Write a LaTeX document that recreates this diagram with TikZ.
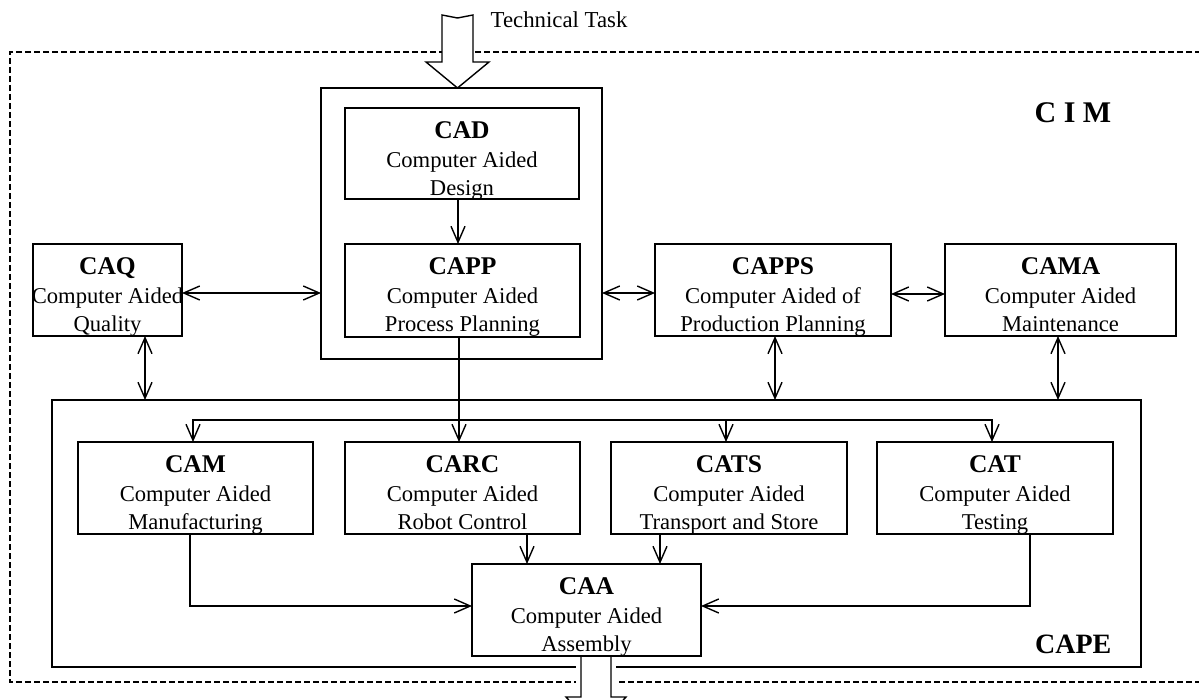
\documentclass[tikz,border=0pt]{standalone}
\usepackage{fontspec}
\setmainfont{Liberation Serif}
\usetikzlibrary{arrows.meta}
\begin{document}
\begin{tikzpicture}[x=1pt,y=-1pt, line width=1.4pt,
  box/.style={draw, rectangle, inner sep=0pt, outer sep=0pt, anchor=north west},
  txt/.style={anchor=north, inner sep=0pt, align=center, font=\fontsize{22.6}{28.5}\selectfont},
  arr/.style={-{Straight Barb[length=16pt,width=14pt]}},
  darr/.style={{Straight Barb[length=16pt,width=14pt]}-{Straight Barb[length=16pt,width=14pt]}},
  frame/.style={dash pattern=on 6pt off 3pt, line width=1.3pt}]
\newcommand\ttlfont{\fontsize{25.5}{28.5}\selectfont\bfseries}
\useasboundingbox (0,0) rectangle (1199,700);
\clip (0,0) rectangle (1199,700);
\fill[white] (0,0) rectangle (1199,700);
% outer dashed CIM frame
\draw[frame] (1210,52) -- (10,52) -- (10,682) -- (1210,682);
% containers
\node[box, minimum width=281pt, minimum height=271pt] (core) at (321,88) {};
\node[box, minimum width=1089pt, minimum height=267pt] (cape) at (52,400) {};
% top hollow arrow
\draw[fill=white, line join=miter] (442,15) -- (457.5,18) -- (473,15) -- (473,62) -- (489,62) -- (457.5,0 |- core.north) -- (426,62) -- (442,62) -- cycle;
\node[anchor=base west, inner sep=0pt, font=\fontsize{22.8}{26}\selectfont] (task) at (490,28) {Technical Task};
% boxes
\node[box, minimum width=234pt, minimum height=91pt] (cad) at (345,108) {};
\node[box, minimum width=235pt, minimum height=93pt] (capp) at (345,244) {};
\node[box, minimum width=149pt, minimum height=92pt] (caq) at (33,244) {};
\node[box, minimum width=236pt, minimum height=92pt] (capps) at (655,244) {};
\node[box, minimum width=231pt, minimum height=92pt] (cama) at (945,244) {};
\node[box, minimum width=235pt, minimum height=92pt] (cam) at (78,442) {};
\node[box, minimum width=235pt, minimum height=92pt] (carc) at (345,442) {};
\node[box, minimum width=236pt, minimum height=92pt] (cats) at (611,442) {};
\node[box, minimum width=236pt, minimum height=92pt] (cat) at (877,442) {};
\node[box, minimum width=229pt, minimum height=92pt] (caa) at (472,564) {};
% texts
\node[txt] (cadt) at ([yshift=-13pt]cad.north) {{\ttlfont CAD}\\Computer Aided\\Design};
\node[txt] (cappt) at ([yshift=-13pt]capp.north) {{\ttlfont CAPP}\\Computer Aided\\Process Planning};
\node[txt] (caqt) at ([yshift=-13pt]caq.north) {{\ttlfont CAQ}\\Computer Aided\\Quality};
\node[txt] (cappst) at ([yshift=-13pt]capps.north) {{\ttlfont CAPPS}\\Computer Aided of\\Production Planning};
\node[txt] (camat) at ([yshift=-13pt]cama.north) {{\ttlfont CAMA}\\Computer Aided\\Maintenance};
\node[txt] (camt) at ([yshift=-13pt]cam.north) {{\ttlfont CAM}\\Computer Aided\\Manufacturing};
\node[txt] (carct) at ([yshift=-13pt]carc.north) {{\ttlfont CARC}\\Computer Aided\\Robot Control};
\node[txt] (catst) at ([yshift=-13pt]cats.north) {{\ttlfont CATS}\\Computer Aided\\Transport and Store};
\node[txt] (catt) at ([yshift=-13pt]cat.north) {{\ttlfont CAT}\\Computer Aided\\Testing};
\node[txt] (caat) at ([yshift=-13pt]caa.north) {{\ttlfont CAA}\\Computer Aided\\Assembly};
% labels
\node[anchor=base east, inner sep=0pt, font=\fontsize{30}{32}\selectfont\bfseries] (ciml) at (1112,123) {C I M};
\node[anchor=base east, inner sep=0pt, font=\fontsize{28}{30}\selectfont\bfseries] (capel) at (1112,653) {CAPE};
% connectors
\draw[arr] (458,0 |- cad.south) -- (458,0 |- capp.north);
\draw[darr] (caq.east |- 0,293) -- (core.west |- 0,293);
\draw[darr] (core.east |- 0,293) -- (capps.west |- 0,293);
\draw[darr] (capps.east |- 0,294) -- (cama.west |- 0,294);
\draw[darr] (145,0 |- caq.south) -- (145,0 |- cape.north);
\draw[darr] (775,0 |- capps.south) -- (775,0 |- cape.north);
\draw[darr] (1058,0 |- cama.south) -- (1058,0 |- cape.north);
\coordinate (split) at (459,420);
\draw[arr] (459,0 |- capp.south) -- (459,0 |- carc.north);
\draw[arr] (split) -| (193,0 |- cam.north);
\draw[arr] (split) -| (726,0 |- cats.north);
\draw[arr] (split) -| (992,0 |- cat.north);
\draw[arr] (527,0 |- carc.south) -- (527,0 |- caa.north);
\draw[arr] (660,0 |- cats.south) -- (660,0 |- caa.north);
\draw[arr] (190,0 |- cam.south) |- (caa.west |- 0,606);
\draw[arr] (1030,0 |- cat.south) |- (caa.east |- 0,606);
% bottom hollow output arrow
\fill[white] (576,659) rectangle (616,702);
\draw[line join=miter] (581,0 |- caa.south) -- (581,697) -- (566,697) -- (596,730) -- (626,697) -- (611,697) -- (611,0 |- caa.south);
\end{tikzpicture}
\end{document}
